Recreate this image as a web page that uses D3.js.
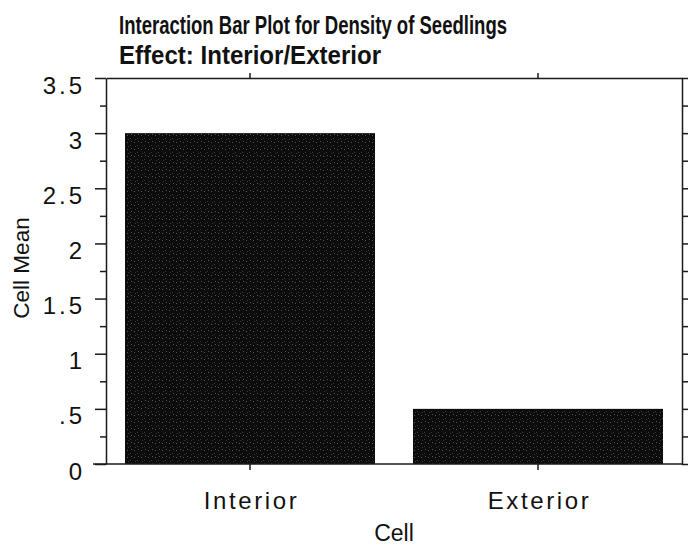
<!DOCTYPE html>
<html>
<head>
<meta charset="utf-8">
<script src="https://cdn.jsdelivr.net/npm/d3@7"></script>
<style>
  body { margin: 0; background: #fff; }
  text { fill: #111; }
</style>
</head>
<body>
<div id="chart"></div>
<script>
// values
var cells = ["Interior", "Exterior"];
var cellMeans = [3, 0.5];
var yMajor = [0, 0.5, 1, 1.5, 2, 2.5, 3, 3.5];
var yMajorLabels = ["0", ".5", "1", "1.5", "2", "2.5", "3", "3.5"];
var yMinor = [0.25, 0.75, 1.25, 1.75, 2.25, 2.75, 3.25];
var titleLines = ["Interaction Bar Plot for Density of Seedlings", "Effect: Interior/Exterior"];

var width = 688, height = 546;
var margin = {top: 78, right: 6, bottom: 82, left: 106};
var plotRight = width - margin.right;
var plotBottom = height - margin.bottom;
var font = "Liberation Sans, Arial, Helvetica, sans-serif";
var ink = "#1a1a1a";

var svg = d3.select("#chart").append("svg")
    .attr("width", width)
    .attr("height", height);

// speckled dark fill like the printed bars
var defs = svg.append("defs");
var pat = defs.append("pattern")
    .attr("id", "speckle")
    .attr("patternUnits", "userSpaceOnUse")
    .attr("width", 7).attr("height", 7);
pat.append("rect").attr("width", 7).attr("height", 7).attr("fill", "#0c0c0c");
[[1,2],[4,5],[5,1],[2,6]].forEach(function(p, i){
    pat.append("rect").attr("x", p[0]).attr("y", p[1])
        .attr("width", 1).attr("height", 1)
        .attr("fill", i % 2 ? "#3a3a3a" : "#555");
});

var x = d3.scaleBand()
    .domain(cells)
    .range([margin.left, plotRight])
    .paddingInner(0.132)
    .paddingOuter(0.066);

var y = d3.scaleLinear()
    .domain([0, 3.5])
    .range([plotBottom, margin.top]);

// bars
svg.selectAll("rect.bar")
    .data(cells)
    .enter()
    .append("rect")
    .attr("class", "bar")
    .attr("x", d => x(d))
    .attr("width", x.bandwidth())
    .attr("y", (d,i) => y(cellMeans[i]))
    .attr("height", (d,i) => y(0) - y(cellMeans[i]))
    .attr("fill", "url(#speckle)");

function inkLines(g){
    g.selectAll(".tick line").attr("stroke", ink).attr("stroke-width", 1.5);
}

// left axis, major ticks with labels
var leftMajor = svg.append("g")
    .attr("transform", `translate(${margin.left},0)`)
    .call(d3.axisLeft(y).tickValues(yMajor).tickSize(11).tickSizeOuter(0)
        .tickFormat((d,i) => yMajorLabels[i]));
leftMajor.select(".domain").attr("stroke", ink).attr("stroke-width", 1.5);
leftMajor.call(inkLines);
leftMajor.selectAll(".tick text")
    .attr("x", -21)
    .attr("y", 0)
    .attr("dy", 15)
    .attr("font-size", 24)
    .attr("letter-spacing", 3)
    .attr("font-family", font)
    .attr("fill", "#111");

// left minor ticks
svg.append("g")
    .attr("transform", `translate(${margin.left},0)`)
    .call(d3.axisLeft(y).tickValues(yMinor).tickSize(6).tickSizeOuter(0).tickFormat(""))
    .call(g => g.select(".domain").remove())
    .call(inkLines);

// right axis, ticks point outward
var rightAll = yMajor.concat(yMinor);
svg.append("g")
    .attr("transform", `translate(${plotRight},0)`)
    .call(d3.axisRight(y).tickValues(rightAll).tickSize(8).tickSizeOuter(0).tickFormat(""))
    .call(g => g.select(".domain").attr("stroke", ink).attr("stroke-width", 1.5))
    .call(inkLines);

// top frame with small ticks at the cells
svg.append("g")
    .attr("transform", `translate(0,${margin.top})`)
    .call(d3.axisTop(x).tickSize(5).tickSizeOuter(0).tickFormat(""))
    .call(g => g.select(".domain").attr("stroke", ink).attr("stroke-width", 1.5))
    .call(inkLines);

// bottom axis
var bottom = svg.append("g")
    .attr("transform", `translate(0,${plotBottom})`)
    .call(d3.axisBottom(x).tickSize(6).tickSizeOuter(0));
bottom.select(".domain").remove();
bottom.call(inkLines);
bottom.selectAll(".tick text")
    .attr("y", 0)
    .attr("dy", 45)
    .attr("dx", 1.5)
    .attr("font-size", 24)
    .attr("letter-spacing", 2.6)
    .attr("font-family", font)
    .attr("fill", "#111");
svg.append("line")
    .attr("x1", margin.left - 13).attr("x2", plotRight)
    .attr("y1", plotBottom).attr("y2", plotBottom)
    .attr("stroke", ink).attr("stroke-width", 1.5);

// axis titles
svg.append("text")
    .attr("x", (margin.left + plotRight) / 2)
    .attr("y", 541)
    .attr("text-anchor", "middle")
    .attr("font-size", 23)
    .attr("font-family", font)
    .text("Cell");

svg.append("text")
    .attr("transform", "translate(29,268) rotate(-90)")
    .attr("text-anchor", "middle")
    .attr("font-size", 22.5)
    .attr("font-family", font)
    .text("Cell Mean");

// title
svg.selectAll("text.title")
    .data(titleLines)
    .enter()
    .append("text")
    .attr("class", "title")
    .attr("x", 119)
    .attr("y", (d,i) => 34 + i * 30)
    .attr("font-size", 25)
    .attr("font-weight", "bold")
    .attr("font-family", "Liberation Sans Narrow, Arial Narrow, Liberation Sans, sans-serif")
    .attr("textLength", (d,i) => i === 0 ? 388 : 262)
    .attr("lengthAdjust", "spacingAndGlyphs")
    .text(d => d);
</script>
</body>
</html>
